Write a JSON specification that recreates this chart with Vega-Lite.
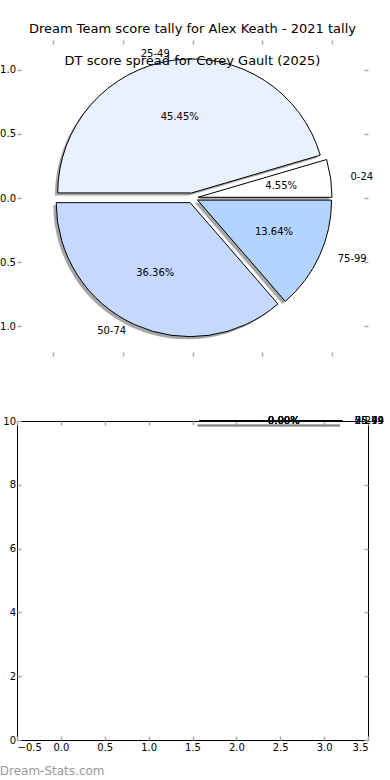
{
  "$schema": "https://vega.github.io/schema/vega-lite/v6.json",
  "background": "white",
  "padding": {"left": -9, "top": 22, "right": 0, "bottom": 0},
  "bounds": "flush",
  "spacing": 65,
  "datasets": {
    "keath": [
      {"range": "0-24", "count": 1, "order": 1},
      {"range": "25-49", "count": 10, "order": 2},
      {"range": "50-74", "count": 8, "order": 3},
      {"range": "75-99", "count": 3, "order": 4}
    ],
    "gault": [
      {"range": "0-24", "count": 0},
      {"range": "25-49", "count": 0},
      {"range": "50-74", "count": 0},
      {"range": "75-99", "count": 0}
    ]
  },
  "vconcat": [
    {
      "width": 351,
      "height": 316,
      "title": {
        "text": "Dream Team score tally for Alex Keath - 2021 tally",
        "subtitle": "DT score spread for Corey Gault (2025)",
        "anchor": "middle",
        "frame": "group",
        "offset": -29,
        "subtitlePadding": 19.5,
        "fontSize": 13,
        "subtitleFontSize": 13,
        "fontWeight": "normal",
        "color": "black",
        "subtitleColor": "black",
        "font": "DejaVu Sans",
        "subtitleFont": "DejaVu Sans"
      },
      "data": {"name": "keath"},
      "transform": [
        {"joinaggregate": [{"op": "sum", "field": "count", "as": "total"}]},
        {"stack": "count", "groupby": [], "sort": [{"field": "order", "order": "ascending"}], "as": ["t0", "t1"]},
        {"calculate": "PI*(datum.t0+datum.t1)/datum.total", "as": "mid"},
        {"calculate": "0.04*cos(datum.mid)", "as": "cx"},
        {"calculate": "0.04*sin(datum.mid)", "as": "cy"},
        {"calculate": "datum.cx+1.1*cos(datum.mid)", "as": "lx"},
        {"calculate": "datum.cy+1.1*sin(datum.mid)", "as": "ly"},
        {"calculate": "datum.cx+0.6*cos(datum.mid)", "as": "px"},
        {"calculate": "datum.cy+0.6*sin(datum.mid)", "as": "py"},
        {"calculate": "format(100*datum.count/datum.total,'.2f')+'%'", "as": "pct"}
      ],
      "layer": [
        {
          "mark": {"type": "arc", "radius": 134, "xOffset": -2.8, "yOffset": 2.6, "color": "#4d4d4d", "opacity": 0.5},
          "encoding": {
            "theta": {"field": "t0", "type": "quantitative", "stack": null, "scale": {"domain": [0, 22], "range": [1.5708, -4.7124]}},
            "theta2": {"field": "t1"},
            "x": {"field": "cx", "type": "quantitative", "scale": {"domain": [-1.2536, 1.2536], "nice": false, "zero": false},
                  "axis": {"orient": "bottom", "labels": false, "values": [-1, -0.5, 0, 0.5, 1], "title": null}},
            "y": {"field": "cy", "type": "quantitative", "scale": {"domain": [-1.234, 1.234], "nice": false, "zero": false},
                  "axis": {"orient": "left", "values": [-1, -0.5, 0, 0.5, 1], "format": ".1f", "title": null}}
          }
        },
        {
          "mark": {"type": "arc", "radius": 134, "stroke": "black", "strokeWidth": 1},
          "encoding": {
            "theta": {"field": "t0", "type": "quantitative", "stack": null, "scale": {"domain": [0, 22], "range": [1.5708, -4.7124]}},
            "theta2": {"field": "t1"},
            "x": {"field": "cx", "type": "quantitative",
                  "axis": {"orient": "top", "labels": false, "values": [-1, -0.5, 0, 0.5, 1], "title": null}},
            "y": {"field": "cy", "type": "quantitative",
                  "axis": {"orient": "right", "labels": false, "values": [-1, -0.5, 0, 0.5, 1], "title": null}},
            "color": {"field": "range", "type": "nominal", "legend": null,
                      "scale": {"domain": ["0-24", "25-49", "50-74", "75-99"], "range": ["#ffffff", "#eaf1fe", "#c5d8fe", "#b2d4fe"]}}
          }
        },
        {
          "transform": [{"filter": "datum.lx > 0"}],
          "mark": {"type": "text", "align": "left", "baseline": "middle", "fontSize": 10, "font": "DejaVu Sans", "color": "black"},
          "encoding": {
            "x": {"field": "lx", "type": "quantitative", "axis": null},
            "y": {"field": "ly", "type": "quantitative", "axis": null},
            "text": {"field": "range"}
          }
        },
        {
          "transform": [{"filter": "datum.lx <= 0"}],
          "mark": {"type": "text", "align": "right", "baseline": "middle", "fontSize": 10, "font": "DejaVu Sans", "color": "black"},
          "encoding": {
            "x": {"field": "lx", "type": "quantitative", "axis": null},
            "y": {"field": "ly", "type": "quantitative", "axis": null},
            "text": {"field": "range"}
          }
        },
        {
          "mark": {"type": "text", "align": "center", "baseline": "middle", "fontSize": 10, "font": "DejaVu Sans", "color": "black"},
          "encoding": {
            "x": {"field": "px", "type": "quantitative", "axis": null},
            "y": {"field": "py", "type": "quantitative", "axis": null},
            "text": {"field": "pct"}
          }
        }
      ],
      "resolve": {"axis": {"x": "independent", "y": "independent"}}
    },
    {
      "width": 351,
      "height": 319,
      "view": {"stroke": "black", "strokeWidth": 1},
      "title": {
        "text": "Dream-Stats.com",
        "orient": "bottom",
        "anchor": "start",
        "frame": "bounds",
        "offset": 14,
        "dx": -3,
        "fontSize": 12,
        "fontWeight": "normal",
        "color": "#999999",
        "font": "DejaVu Sans"
      },
      "data": {"name": "gault"},
      "transform": [{"calculate": "format(datum.count,'.2f')+'%'", "as": "pct"}],
      "layer": [
        {
          "mark": {"type": "rule", "color": "#888888", "strokeWidth": 1.5},
          "encoding": {
            "x": {"datum": 1.56, "type": "quantitative", "scale": {"domain": [-0.5, 3.5], "nice": false, "zero": false},
                  "axis": {"orient": "bottom", "values": [-0.5, 0, 0.5, 1, 1.5, 2, 2.5, 3, 3.5], "format": ".1f", "title": null, "labelPadding": 6}},
            "x2": {"datum": 3.18},
            "y": {"datum": 9.86, "type": "quantitative", "scale": {"domain": [0, 10], "nice": false, "zero": false},
                  "axis": {"orient": "left", "values": [0, 2, 4, 6, 8, 10], "format": "d", "title": null}}
          }
        },
        {
          "mark": {"type": "rule", "color": "black", "strokeWidth": 1.5},
          "encoding": {
            "x": {"datum": 1.58, "type": "quantitative",
                  "axis": {"orient": "top", "labels": false, "values": [-0.5, 0, 0.5, 1, 1.5, 2, 2.5, 3, 3.5], "title": null}},
            "x2": {"datum": 3.21},
            "y": {"datum": 10, "type": "quantitative",
                  "axis": {"orient": "right", "labels": false, "values": [0, 2, 4, 6, 8, 10], "title": null}}
          }
        },
        {
          "mark": {"type": "text", "align": "center", "baseline": "middle", "fontSize": 10, "font": "DejaVu Sans", "color": "black"},
          "encoding": {
            "x": {"datum": 2.54, "type": "quantitative", "axis": null},
            "y": {"datum": 10, "type": "quantitative", "axis": null},
            "text": {"field": "pct"}
          }
        },
        {
          "mark": {"type": "text", "align": "left", "baseline": "middle", "fontSize": 10, "font": "DejaVu Sans", "color": "black"},
          "encoding": {
            "x": {"datum": 3.35, "type": "quantitative", "axis": null},
            "y": {"datum": 10, "type": "quantitative", "axis": null},
            "text": {"field": "range"}
          }
        }
      ],
      "resolve": {"axis": {"x": "independent", "y": "independent"}}
    }
  ],
  "config": {
    "font": "DejaVu Sans",
    "view": {"stroke": null},
    "axis": {
      "labelFont": "DejaVu Sans",
      "labelFontSize": 10,
      "labelColor": "black",
      "tickColor": "#aaaaaa",
      "tickSize": -4,
      "tickWidth": 1.5,
      "labelPadding": 5.5,
      "grid": false,
      "domain": false
    }
  }
}
